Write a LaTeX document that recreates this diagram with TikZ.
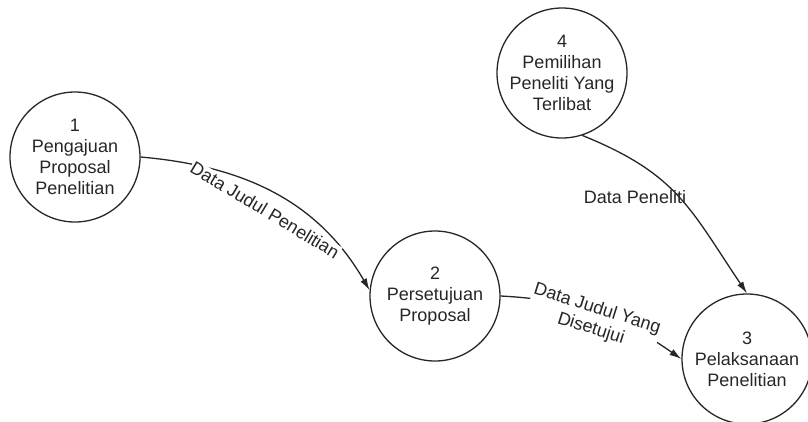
\documentclass[tikz,border=0pt]{standalone}
\usepackage{fontspec}
\setmainfont{Liberation Sans}
\usetikzlibrary{arrows.meta}
\definecolor{ink}{HTML}{262626}
\begin{document}
\begin{tikzpicture}[x=1pt,y=1pt,
  process/.style={circle,draw=ink,line width=1.3pt,minimum size=130pt,inner sep=0pt,
    align=center,text=ink,font=\fontsize{18}{21}\selectfont},
  flow/.style={draw=ink,line width=1.3pt,-{Latex[length=12pt,width=7pt]}},
  flowlabel/.style={text=ink,font=\fontsize{18}{21}\selectfont,align=center,inner sep=1pt}]
\useasboundingbox (0,0) rectangle (808,-421);
% processes
\node[process] (p1) at (75,-157) {1\\Pengajuan\\Proposal\\Penelitian};
\node[process] (p2) at (435,-296) {2\\Persetujuan\\Proposal};
\node[process] (p3) at (747,-359) {3\\Pelaksanaan\\Penelitian};
\node[process] (p4) at (562,-73) {4\\Pemilihan\\Peneliti Yang\\Terlibat};
% data flows
\draw[flow] (p1.east) to[out=-5,in=120] (p2.175);
\draw[flow] (p2.east) to[out=-3,in=145] (p3.west);
\draw[flow] (p4.-72) to[out=-22,in=124,looseness=1.15] (p3.north);
% flow labels
\node[flowlabel,fill=white,rotate=-31] (l12) at (265,-210) {Data Judul Penelitian};
\node[flowlabel,fill=white,rotate=-17.5] (l23) at (594,-319) {Data Judul Yang\\Disetujui};
\node[flowlabel] (l43) at (635,-197) {Data Peneliti};
\end{tikzpicture}
\end{document}
